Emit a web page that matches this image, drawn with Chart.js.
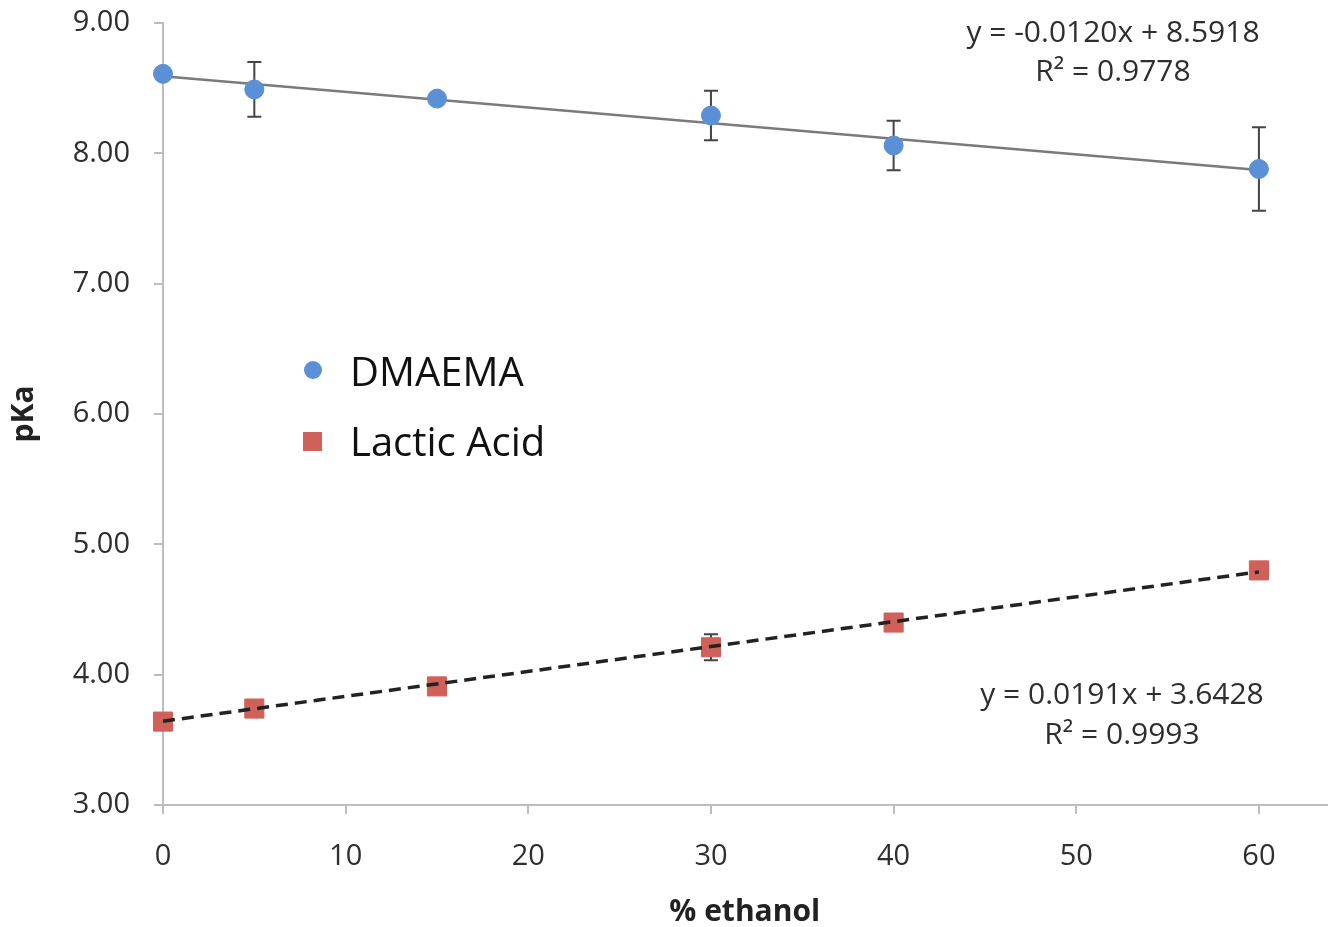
<!DOCTYPE html>
<html>
<head>
<meta charset="utf-8">
<script src="https://cdn.jsdelivr.net/npm/chart.js@4.4.0/dist/chart.umd.min.js"></script>
<style>
  html, body { margin: 0; padding: 0; background: #fff; overflow: hidden; }
  #wrap { width: 1341px; height: 927px; }
</style>
</head>
<body>
<div id="wrap"><canvas id="pka-chart"></canvas></div>
<script>
// % ethanol
var ethanol = [0, 5, 15, 30, 40, 60]

// pKa readings and error bars
var dmaema = [8.61, 8.49, 8.42, 8.29, 8.06, 7.88]
var dmaemaErr = [0, 0.21, 0, 0.19, 0.19, 0.32]
var lactic = [3.64, 3.74, 3.91, 4.21, 4.40, 4.80]
var lacticErr = [0, 0, 0, 0.1, 0, 0.05]

// trendline coefficients shown on the chart
var dmaemaFit = [-0.0120, 8.5918]
var lacticFit = [0.0191, 3.6428]
var dmaemaLabel = ["y = -0.0120x + 8.5918", "R² = 0.9778"]
var lacticLabel = ["y = 0.0191x + 3.6428", "R² = 0.9993"]

var yTicks = [3, 4, 5, 6, 7, 8, 9]
var xTicks = [0, 10, 20, 30, 40, 50, 60]

var blue = "#5b8fd6"
var red = "#d0605a"
var textColor = "#2e2e2e"
var font = "'Open Sans', 'Noto Sans', sans-serif"

function pts(xs, ys) {
  return xs.map(function (x, i) { return { x: x, y: ys[i] } })
}
function fitLine(fit) {
  var a = ethanol[0], b = ethanol[ethanol.length - 1]
  return [{ x: a, y: fit[0] * a + fit[1] }, { x: b, y: fit[0] * b + fit[1] }]
}

var errorBars = {
  id: 'errorBars',
  beforeDatasetsDraw: function (chart) {
    var ctx = chart.ctx, xs = chart.scales.x, ys = chart.scales.y
    var sets = [[dmaema, dmaemaErr], [lactic, lacticErr]]
    ctx.save()
    ctx.strokeStyle = "#444"
    ctx.lineWidth = 2
    sets.forEach(function (s) {
      ethanol.forEach(function (x, i) {
        if (!s[1][i]) return
        var px = xs.getPixelForValue(x)
        var top = ys.getPixelForValue(s[0][i] + s[1][i])
        var bot = ys.getPixelForValue(s[0][i] - s[1][i])
        ctx.beginPath()
        ctx.moveTo(px, top); ctx.lineTo(px, bot)
        ctx.moveTo(px - 7, top); ctx.lineTo(px + 7, top)
        ctx.moveTo(px - 7, bot); ctx.lineTo(px + 7, bot)
        ctx.stroke()
      })
    })
    ctx.restore()
  }
}

var extras = {
  id: 'extras',
  afterDraw: function (chart) {
    var ctx = chart.ctx
    ctx.save()
    ctx.fillStyle = textColor
    ctx.textAlign = 'center'
    ctx.textBaseline = 'middle'
    ctx.font = "30px " + font
    ctx.fillText(dmaemaLabel[0], 1113, 33)
    ctx.fillText(dmaemaLabel[1], 1113, 72)
    ctx.fillText(lacticLabel[0], 1122, 695)
    ctx.fillText(lacticLabel[1], 1122, 735)

    // legend
    ctx.fillStyle = blue
    ctx.beginPath()
    ctx.arc(313, 370, 9, 0, Math.PI * 2)
    ctx.fill()
    ctx.fillStyle = red
    ctx.fillRect(303, 432, 19, 19)
    ctx.fillStyle = "#111"
    ctx.textAlign = 'left'
    ctx.font = "40px " + font
    ctx.fillText("DMAEMA", 350, 375)
    ctx.fillText("Lactic Acid", 350, 445)
    ctx.restore()
  }
}

new Chart(document.getElementById("pka-chart"), {
  type: 'scatter',
  data: {
    datasets: [
      {
        label: "DMAEMA",
        data: pts(ethanol, dmaema),
        backgroundColor: blue,
        borderColor: blue,
        pointRadius: 9.5,
        pointHoverRadius: 9.5,
        clip: false,
        order: 2
      },
      {
        label: "DMAEMA fit",
        type: 'line',
        data: fitLine(dmaemaFit),
        borderColor: "#7a7a7a",
        borderWidth: 2.5,
        pointRadius: 0,
        fill: false,
        clip: false,
        order: 3
      },
      {
        label: "Lactic Acid",
        data: pts(ethanol, lactic),
        backgroundColor: red,
        borderColor: red,
        pointStyle: 'rect',
        pointRadius: 13.5,
        pointHoverRadius: 13.5,
        clip: false,
        order: 2
      },
      {
        label: "Lactic Acid fit",
        type: 'line',
        data: fitLine(lacticFit),
        borderColor: "#222",
        borderWidth: 3.5,
        borderDash: [12, 7],
        pointRadius: 0,
        fill: false,
        clip: false,
        order: 1
      }
    ]
  },
  options: {
    responsive: true,
    maintainAspectRatio: false,
    animation: false,
    layout: { padding: { top: 23, right: 0, left: 6, bottom: 0 } },
    plugins: {
      legend: { display: false },
      tooltip: { enabled: false }
    },
    scales: {
      x: {
        type: 'linear',
        min: 0,
        max: 63.7,
        afterBuildTicks: function (s) { s.ticks = xTicks.map(function (v) { return { value: v } }) },
        afterFit: function (s) { s.height = 122; s.paddingLeft = 0; s.paddingRight = 0 },
        border: { color: "#bdbdbd", width: 2 },
        grid: { drawOnChartArea: false, drawTicks: true, tickLength: 9, color: "#bdbdbd", lineWidth: 2 },
        ticks: { color: textColor, font: { family: font, size: 29 }, padding: 25, maxRotation: 0 },
        title: { display: true, text: "% ethanol", color: "#222", font: { family: font, size: 30, weight: 'bold' }, padding: { top: 4, bottom: -3 } }
      },
      y: {
        min: 3,
        max: 9,
        afterBuildTicks: function (s) { s.ticks = yTicks.map(function (v) { return { value: v } }) },
        afterFit: function (s) { s.width = 157; s.paddingTop = 0; s.paddingBottom = 0 },
        border: { color: "#bdbdbd", width: 2 },
        grid: { drawOnChartArea: false, drawTicks: true, tickLength: 9, color: "#bdbdbd", lineWidth: 2 },
        ticks: {
          color: textColor,
          font: { family: font, size: 29 },
          padding: 24,
          callback: function (v) { return v.toFixed(2) }
        },
        title: { display: true, text: "pKa", color: "#222", font: { family: font, size: 30, weight: 'bold' }, padding: { top: 0, bottom: 0 } }
      }
    }
  },
  plugins: [errorBars, extras]
});
</script>
</body>
</html>
